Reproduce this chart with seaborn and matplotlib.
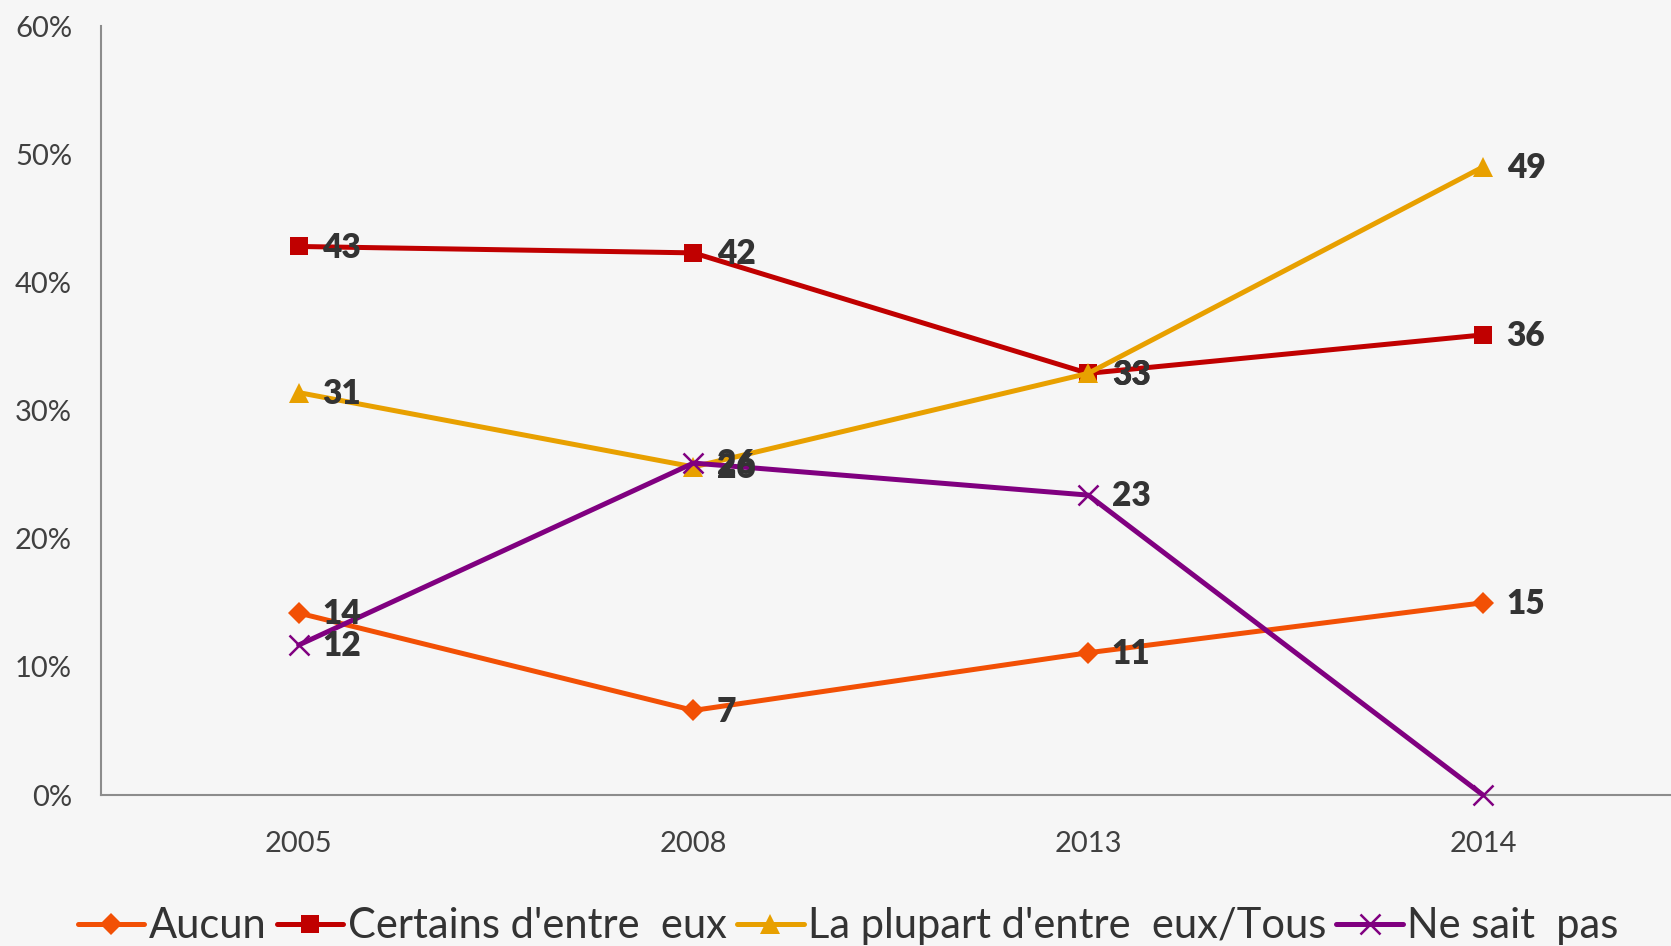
import matplotlib
matplotlib.use("Agg")
import matplotlib.pyplot as plt
import seaborn as sns
import pandas as pd

years = ["2005", "2008", "2013", "2014"]
aucun = [14.2, 6.6, 11.1, 15.0]
certains = [42.8, 42.3, 32.9, 35.9]
plupart = [31.4, 25.6, 32.9, 49.0]
ne_sait_pas = [11.7, 25.9, 23.4, 0.0]
series_names = ["Aucun", "Certains d'entre  eux", "La plupart d'entre  eux/Tous", "Ne sait  pas"]
label_values = {
    "Aucun": ["14", "7", "11", "15"],
    "Certains d'entre  eux": ["43", "42", "33", "36"],
    "La plupart d'entre  eux/Tous": ["31", "26", "33", "49"],
    "Ne sait  pas": ["12", "26", "23", "0"],
}
y_ticks = [0, 10, 20, 30, 40, 50, 60]
y_tick_labels = ["0%", "10%", "20%", "30%", "40%", "50%", "60%"]

colors = ["#F25005", "#C00000", "#E8A000", "#800080"]

sns.set_theme(style="white")
plt.rcParams['font.family'] = ['Lato', 'DejaVu Sans']

bg = "#F6F6F6"
fig = plt.figure(figsize=(16.71, 9.46), dpi=100, facecolor=bg)
ax = fig.add_axes([0.0606, 0.1596, 0.945, 0.8129])
ax.set_facecolor(bg)

rows = []
for name, vals in zip(series_names, [aucun, certains, plupart, ne_sait_pas]):
    for i, (yr, v) in enumerate(zip(years, vals)):
        rows.append({"pos": i, "year": yr, "value": v, "series": name})
df = pd.DataFrame(rows)

palette = dict(zip(series_names, colors))
for name, mk, ms in zip(series_names, ["D", "s", "^", "x"], [11, 13, 14, 14]):
    sub = df[df["series"] == name]
    sns.lineplot(data=sub, x="pos", y="value", ax=ax, color=palette[name],
                 linewidth=3.6, marker=mk, markersize=ms,
                 markeredgewidth=(1.8 if mk == "x" else 0),
                 markeredgecolor=palette[name], label=name, legend=False,
                 clip_on=False, zorder=3)
    for i, lab in enumerate(label_values[name]):
        if name == "Ne sait  pas" and lab == "0":
            continue
        v = sub["value"].iloc[i]
        ax.annotate(lab, (i, v), xytext=(17, -1), textcoords="offset points",
                    ha="left", va="center", fontsize=24, fontweight="heavy",
                    color="#333333", zorder=4)

ax.set_xlim(-0.5, 3.5)
ax.set_ylim(0, 60)
ax.set_xticks([-0.5, 0.5, 1.5, 2.5, 3.5])
ax.set_xticklabels([])
ax.set_xticks([0, 1, 2, 3], minor=True)
ax.set_xticklabels(years, minor=True)
ax.tick_params(axis="x", which="major", length=8, width=1.2, color="#8C8C8C", direction="out")
ax.tick_params(axis="x", which="minor", length=0, pad=26, labelsize=21, labelcolor="#404040")
ax.set_yticks(y_ticks)
ax.set_yticklabels(y_tick_labels)
ax.tick_params(axis="y", length=8, width=1.2, color="#8C8C8C", direction="out",
               pad=13, labelsize=21, labelcolor="#404040")
ax.set_xlabel("")
ax.set_ylabel("")
for s in ["top", "right"]:
    ax.spines[s].set_visible(False)
for s in ["left", "bottom"]:
    ax.spines[s].set_color("#8C8C8C")
    ax.spines[s].set_linewidth(1.5)
ax.grid(False)

handles, labels = ax.get_legend_handles_labels()
leg = fig.legend(handles, labels, loc="center", bbox_to_anchor=(0.5076, 0.021), ncol=4,
                 frameon=False, fontsize=30, handlelength=1.6, handletextpad=0.1,
                 columnspacing=0.25, labelcolor="#333333", borderpad=0)

fig.savefig("out.png", dpi=100, facecolor=bg)
